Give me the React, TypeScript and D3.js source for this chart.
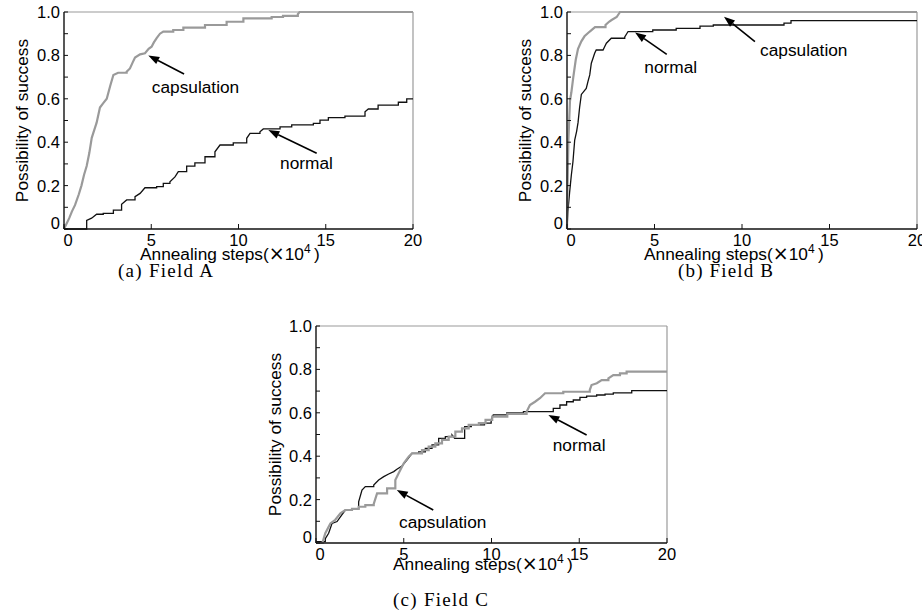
import React from "react";
import * as d3 from "d3";

type Pt = [number, number];

// ---------- data (x in 10^4 annealing steps, y = possibility of success) ----------
const xTicks = [0, 5, 10, 15, 20];
const yTicks = [0, 0.2, 0.4, 0.6, 0.8, 1.0];
const yTickLabels = ["0", "0.2", "0.4", "0.6", "0.8", "1.0"];
const yMinorTicks = [0.1, 0.3, 0.5, 0.7, 0.9];
const xLabelMain = "Annealing steps(";
const xLabelTimes = "×";
const xLabelTen = "10";
const xLabelSup = "4";
const yLabel = "Possibility of success";
const captions = ["(a) Field A", "(b) Field B", "(c) Field C"];
const seriesNames = ["capsulation", "normal"];

const capsA: Pt[] = [
  [0, 0], [0.06, 0.01], [0.3, 0.05], [0.45, 0.08], [0.63, 0.11], [0.85, 0.16], [1.0, 0.2], [1.15, 0.25],
  [1.3, 0.29], [1.45, 0.35], [1.59, 0.42], [1.75, 0.46], [1.87, 0.49], [2.06, 0.56], [2.25, 0.58],
  [2.45, 0.6], [2.65, 0.66], [2.83, 0.71], [3.1, 0.72], [3.59, 0.725], [3.78, 0.74], [3.95, 0.77],
  [4.07, 0.79], [4.36, 0.805], [4.64, 0.81], [4.85, 0.83], [5.02, 0.84], [5.15, 0.86], [5.31, 0.88],
  [5.5, 0.9], [5.69, 0.91], [6.26, 0.917], [6.84, 0.928], [8.08, 0.94], [9.32, 0.955], [10.28, 0.971],
  [11.9, 0.977], [12.55, 0.982], [13.4, 0.99], [13.5, 1.0], [20, 1.0],
];
const normA: Pt[] = [
  [0, 0], [1.3, 0.04], [1.58, 0.05], [1.87, 0.068], [2.25, 0.072], [2.83, 0.087], [3.3, 0.114],
  [3.59, 0.134], [4.07, 0.149], [4.36, 0.164], [4.64, 0.19], [5.31, 0.195], [5.69, 0.21], [6.07, 0.218],
  [6.36, 0.24], [6.55, 0.264], [7.03, 0.29], [7.5, 0.305], [8.08, 0.333], [8.65, 0.356], [8.94, 0.387],
  [9.7, 0.397], [10.47, 0.418], [10.66, 0.441], [11.23, 0.448], [11.42, 0.461], [12.38, 0.471],
  [13.05, 0.48], [14.29, 0.487], [14.67, 0.502], [15.15, 0.513], [16.1, 0.52], [17.25, 0.54],
  [17.44, 0.553], [18.0, 0.571], [19.16, 0.584], [19.64, 0.6], [20, 0.6],
];
const capsB: Pt[] = [
  [0, 0], [0.03, 0.2], [0.08, 0.41], [0.17, 0.59], [0.25, 0.63], [0.36, 0.7], [0.5, 0.78], [0.63, 0.83],
  [0.82, 0.865], [1.0, 0.888], [1.3, 0.91], [1.6, 0.93], [2.2, 0.94], [2.4, 0.955], [2.55, 0.963],
  [2.84, 0.977], [3.03, 1.0], [20, 1.0],
];
const normB: Pt[] = [
  [0, 0], [0.05, 0.08], [0.15, 0.17], [0.25, 0.25], [0.34, 0.31], [0.44, 0.41], [0.55, 0.45],
  [0.63, 0.49], [0.72, 0.56], [0.82, 0.62], [1.1, 0.648], [1.2, 0.68], [1.3, 0.71], [1.39, 0.764],
  [1.5, 0.79], [1.58, 0.81], [1.67, 0.825], [2.06, 0.825], [2.15, 0.84], [2.25, 0.856], [2.53, 0.879],
  [3.3, 0.885], [3.49, 0.91], [4.9, 0.917], [6.24, 0.925], [7.6, 0.935], [8.36, 0.94], [12.4, 0.949],
  [12.8, 0.96], [20, 0.96],
];
const capsC: Pt[] = [
  [0, 0], [0.38, 0.005], [0.53, 0.045], [0.82, 0.09], [1.1, 0.107], [1.39, 0.137], [1.67, 0.152],
  [2.05, 0.157], [2.43, 0.167], [2.81, 0.175], [3.29, 0.18], [3.48, 0.229], [4.05, 0.252], [4.52, 0.29],
  [4.71, 0.321], [5.0, 0.367], [5.28, 0.398], [5.47, 0.413], [6.04, 0.428], [6.42, 0.444], [6.8, 0.459],
  [7.18, 0.475], [7.56, 0.49], [7.94, 0.513], [8.32, 0.528], [8.7, 0.544], [9.28, 0.552], [9.66, 0.567],
  [10.04, 0.582], [10.9, 0.595], [12.0, 0.605], [12.19, 0.636], [12.48, 0.651], [12.76, 0.667],
  [13.05, 0.69], [14.09, 0.697], [15.6, 0.705], [15.7, 0.728], [16.0, 0.736], [16.28, 0.751],
  [16.66, 0.759], [16.94, 0.774], [17.32, 0.782], [17.7, 0.79], [20, 0.79],
];
const normC: Pt[] = [
  [0, 0.006], [0.53, 0.02], [0.72, 0.045], [0.91, 0.09], [1.2, 0.099], [1.39, 0.12], [1.67, 0.152],
  [2.05, 0.157], [2.43, 0.19], [2.62, 0.244], [2.81, 0.26], [3.29, 0.267], [3.57, 0.29], [3.86, 0.306],
  [4.14, 0.318], [4.43, 0.329], [4.61, 0.34], [4.9, 0.355], [5.19, 0.383], [5.47, 0.413], [5.85, 0.42],
  [6.23, 0.436], [6.61, 0.452], [6.99, 0.482], [7.37, 0.49], [7.75, 0.498], [7.9, 0.482], [8.47, 0.536],
  [8.85, 0.544], [9.6, 0.552], [9.98, 0.567], [10.1, 0.59], [10.87, 0.6], [11.82, 0.605], [13.52, 0.62],
  [13.9, 0.636], [14.28, 0.651], [14.66, 0.659], [15.04, 0.671], [15.42, 0.677], [15.99, 0.682],
  [16.47, 0.686], [16.94, 0.692], [17.99, 0.702], [20, 0.702],
];

// annotations: [textX, textY, arrowTailX, arrowTailY, arrowHeadX, arrowHeadY] in data units
const annCapsA = [5.03, 0.656, 6.88, 0.714, 4.83, 0.8];
const annNormA = [12.38, 0.304, 14.48, 0.349, 11.71, 0.456];
const annCapsB = [11.03, 0.825, 10.74, 0.863, 8.97, 0.978];
const annNormB = [4.42, 0.748, 5.7, 0.805, 3.89, 0.906];
const annCapsC = [4.73, 0.098, 6.68, 0.152, 4.6, 0.244];
const annNormC = [13.49, 0.452, 15.42, 0.498, 13.24, 0.59];

// ---------- layout ----------
const panels = [
  { left: 64, top: 12, right: 413, bottom: 229, caps: capsA, norm: normA, annC: annCapsA, annN: annNormA,
    xLabX: 140, xLabY: 260, yLabX: 28, capX: 118, capY: 277, caption: captions[0] },
  { left: 567, top: 12, right: 917, bottom: 229, caps: capsB, norm: normB, annC: annCapsB, annN: annNormB,
    xLabX: 644, xLabY: 260, yLabX: 531, capX: 678, capY: 277, caption: captions[1] },
  { left: 316, top: 326, right: 667, bottom: 543, caps: capsC, norm: normC, annC: annCapsC, annN: annNormC,
    xLabX: 393, xLabY: 570, yLabX: 281, capX: 393, capY: 606, caption: captions[2] },
];

const SANS = "'Liberation Sans', Arial, Helvetica, sans-serif";
const SERIF = "'Liberation Serif', 'DejaVu Serif', serif";
const FS_TICK = 16.5;
const FS = 17.3;
const GRAY = "#9a9a9a";
const STEP_GAP = 0.35; // wider gaps drawn as stairs, narrow ones as straight rises

function Arrow({ x1, y1, x2, y2 }: { x1: number; y1: number; x2: number; y2: number }) {
  const ang = Math.atan2(y2 - y1, x2 - x1);
  const L = 11, W = 4;
  const bx = x2 - L * Math.cos(ang), by = y2 - L * Math.sin(ang);
  const px = -Math.sin(ang) * W, py = Math.cos(ang) * W;
  return (
    <g>
      <line x1={x1} y1={y1} x2={bx} y2={by} stroke="#000" strokeWidth={1.6} />
      <path d={`M${x2},${y2}L${bx + px},${by + py}L${bx - px},${by - py}Z`} fill="#000" />
    </g>
  );
}

function stairs(data: Pt[]): Pt[] {
  const out: Pt[] = [];
  data.forEach((d, i) => {
    if (i > 0) {
      const prev = data[i - 1];
      if (d[0] - prev[0] > STEP_GAP) out.push([d[0], prev[1]]);
    }
    out.push(d);
  });
  return out;
}

function Panel({ p }: { p: (typeof panels)[number] }) {
  const x = d3.scaleLinear().domain([0, 20]).range([p.left, p.right]);
  const y = d3.scaleLinear().domain([0, 1]).range([p.bottom, p.top]);
  const line = d3.line<Pt>().x((d) => x(d[0])).y((d) => y(d[1])).curve(d3.curveLinear);
  const anns = [
    { a: p.annC, label: seriesNames[0] },
    { a: p.annN, label: seriesNames[1] },
  ];
  return (
    <g>
      <line x1={p.left} y1={p.top} x2={p.right} y2={p.top} stroke={GRAY} strokeWidth={1.2} />
      <line x1={p.right} y1={p.top} x2={p.right} y2={p.bottom} stroke={GRAY} strokeWidth={1.2} />
      <path d={line(stairs(p.norm)) || ""} fill="none" stroke="#111" strokeWidth={1.3} strokeLinejoin="miter" />
      <path d={line(stairs(p.caps)) || ""} fill="none" stroke={GRAY} strokeWidth={2.2} />
      <line x1={p.left} y1={p.top} x2={p.left} y2={p.bottom} stroke="#111" strokeWidth={1.4} />
      <line x1={p.left} y1={p.bottom} x2={p.right} y2={p.bottom} stroke="#111" strokeWidth={1.4} />
      {yTicks.concat(yMinorTicks).map((t) => (
        <line key={"yt" + t} x1={p.left} x2={p.left + 4} y1={y(t)} y2={y(t)} stroke="#111" strokeWidth={1} />
      ))}
      {xTicks.map((t) => (
        <line key={"xt" + t} x1={x(t)} x2={x(t)} y1={p.bottom} y2={p.bottom - 5} stroke="#111" strokeWidth={1} />
      ))}
      {yTicks.map((t, i) => (
        <text key={"yl" + t} x={p.left - 4} y={y(t) + (t === 0 ? -6 : 0)} dy="0.36em" textAnchor="end"
          fontFamily={SANS} fontSize={FS_TICK}>{yTickLabels[i]}</text>
      ))}
      {xTicks.map((t) => (
        <text key={"xl" + t} x={x(t) + (t === 0 ? 4 : 0)} y={p.bottom + 17} textAnchor="middle"
          fontFamily={SANS} fontSize={FS_TICK}>{String(t)}</text>
      ))}
      <text x={p.xLabX} y={p.xLabY} fontFamily={SANS} fontSize={FS}>
        {xLabelMain}
        <tspan fontFamily="'DejaVu Sans', sans-serif" fontSize={19}>{xLabelTimes}</tspan>
        <tspan>{xLabelTen}</tspan>
        <tspan dy={-7} fontSize={12}>{xLabelSup}</tspan>
        <tspan dy={7}>{"\u2009)"}</tspan>
      </text>
      <text transform={`translate(${p.yLabX},${(p.top + p.bottom) / 2}) rotate(-90)`} textAnchor="middle"
        fontFamily={SANS} fontSize={FS}>{yLabel}</text>
      {anns.map(({ a, label }) => (
        <g key={label}>
          <Arrow x1={x(a[2])} y1={y(a[3])} x2={x(a[4])} y2={y(a[5])} />
          <text x={x(a[0])} y={y(a[1])} dy="0.36em" fontFamily={SANS} fontSize={FS}>{label}</text>
        </g>
      ))}
      <text x={p.capX} y={p.capY} fontFamily={SERIF} fontSize={19} textLength={95} lengthAdjust="spacing">
        {p.caption}
      </text>
    </g>
  );
}

export default function App() {
  return (
    <svg width={922} height={616} style={{ position: "absolute", left: 0, top: 0, background: "#fff" }}>
      <rect width={922} height={616} fill="#fff" />
      {panels.map((p, i) => (
        <Panel key={i} p={p} />
      ))}
    </svg>
  );
}
